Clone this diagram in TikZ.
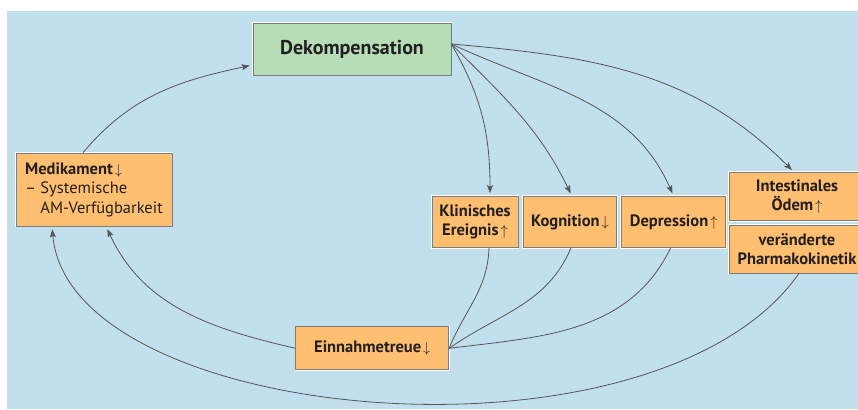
\documentclass[tikz,border=0pt]{standalone}
\usepackage{fontspec}
\setmainfont{PT Sans}
\usepackage{tikz}
\usetikzlibrary{arrows.meta}
\definecolor{bgblue}{RGB}{194,223,238}
\definecolor{boxorange}{RGB}{254,191,112}
\definecolor{boxgreen}{RGB}{182,221,182}
\definecolor{boxgray}{RGB}{125,125,125}
\definecolor{linegray}{RGB}{85,85,90}
\definecolor{textdark}{RGB}{35,31,32}
\newcommand{\pfeilauf}{\kern2pt{\fontsize{14}{14}\selectfont$\uparrow$}}
\newcommand{\pfeilab}{\kern2pt{\fontsize{14}{14}\selectfont$\downarrow$}}

\begin{document}
\begin{tikzpicture}[
    x=1pt, y=-1pt,
    box/.style={draw=boxgray, line width=0.7pt, fill=boxorange, text=textdark,
      preaction={draw=white, line width=2.6pt},
      inner sep=2pt, align=center, font=\bfseries\fontsize{16.5}{19}\selectfont},
    link/.style={draw=linegray, line width=0.8pt},
    arr/.style={link, shorten >=3pt, -{Stealth[length=8pt,width=6pt,inset=1.5pt]}}
    ]
    \useasboundingbox (0,0) rectangle (858,409);
    \clip (0,0) rectangle (858,409);
    \fill[bgblue] (7,11) rectangle (858,409);

    \node[box, fill=boxgreen, minimum width=198pt, minimum height=52pt,
      font=\bfseries\fontsize{20}{24}\selectfont] (dek) at (352,49) {Dekompensation};
    \node[box, minimum width=156pt, minimum height=73pt, align=left,
      font=\fontsize{16.5}{19.5}\selectfont] (med) at (94,189.5)
      {\textbf{Medikament\pfeilab}\\– Systemische\\\phantom{– }AM-Verfügbarkeit};
    \node[box, minimum width=86pt, minimum height=51pt] (kli) at (475,222) {Klinisches\\Ereignis\pfeilauf};
    \node[box, minimum width=93pt, minimum height=51pt] (kog) at (570,222) {Kognition\pfeilab};
    \node[box, minimum width=104pt, minimum height=51pt] (dep) at (673.7,222) {Depression\pfeilauf};
    \node[box, minimum width=136pt, minimum height=48pt] (int) at (797,196.5) {Intestinales\\Ödem\pfeilauf};
    \node[box, minimum width=136pt, minimum height=48pt] (ver) at (797,249) {veränderte\\Pharmakokinetik};
    \node[box, minimum width=153pt, minimum height=43pt] (ein) at (372.3,348.3) {Einnahmetreue\pfeilab};

    \coordinate (dekout) at ([yshift=5pt]dek.east);

    % Dekompensation
    \draw[arr] ([xshift=-11pt]med.north) to[out=50, in=192] ([yshift=-16pt]dek.west);
    \draw[arr] (dekout) to[out=-60, in=90] ([xshift=15pt]kli.north);
    \draw[arr] (dekout) to[out=-45, in=116] ([xshift=2pt]kog.north);
    \draw[arr] (dekout) to[out=-25, in=114] (dep.north);
    \draw[arr] (dekout) to[out=-5, in=135] ([xshift=-3pt]int.north);

    % Einnahmetreue
    \draw[link] ([xshift=14pt]kli.south) to[out=-92, in=68] (ein.east);
    \draw[link] ([xshift=1pt]kog.south) to[out=247, in=35] (ein.east);
    \draw[link] ([xshift=-3pt]dep.south) to[out=244, in=7] (ein.east);
    \draw[arr] (ein.west) to[out=167, in=-65] ([xshift=12pt]med.south);
    \draw[arr] ([xshift=2pt]ver.south) to[out=235, in=275, out distance=250pt, in distance=200pt] ([xshift=-42pt]med.south);
  \end{tikzpicture}
\end{document}
